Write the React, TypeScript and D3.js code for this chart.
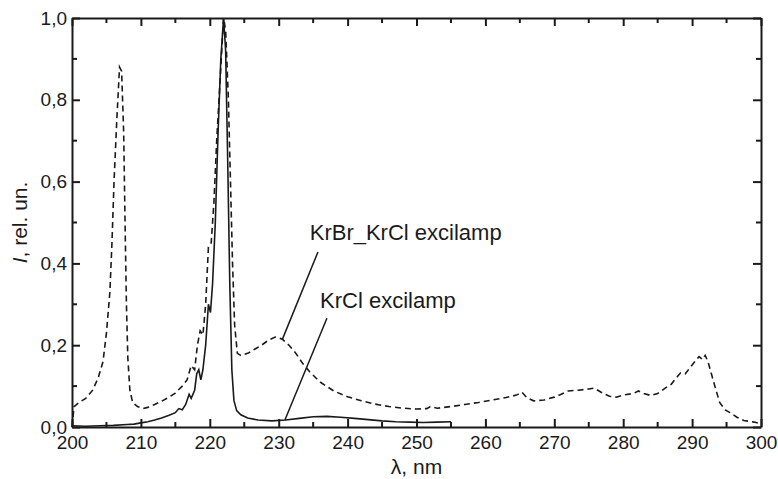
import { useEffect, useRef } from 'react';
import * as d3 from 'd3';

// KrBr_KrCl excilamp spectrum (dashed), [wavelength nm, relative intensity]
const krbrKrcl: [number, number][] = [
  [200, 0.0], [200.3, 0.05], [201, 0.06], [202, 0.07], [203, 0.09], [203.8, 0.12],
  [204.5, 0.16], [205, 0.23], [205.5, 0.33], [205.8, 0.45], [206.1, 0.6], [206.5, 0.75],
  [206.9, 0.88], [207.2, 0.87], [207.5, 0.72], [207.7, 0.5], [207.9, 0.3], [208.1, 0.17],
  [208.4, 0.09], [208.8, 0.06], [209.5, 0.05], [210.3, 0.045], [211, 0.048], [212, 0.055],
  [213, 0.063], [214, 0.072], [215, 0.083], [216, 0.1], [216.7, 0.115], [217.3, 0.15],
  [217.8, 0.14], [218.2, 0.2], [218.6, 0.235], [219, 0.225], [219.4, 0.3], [219.8, 0.44],
  [220.2, 0.45], [220.6, 0.55], [221, 0.7], [221.5, 0.85], [222, 1.0], [222.3, 0.97],
  [222.7, 0.8], [223, 0.6], [223.3, 0.4], [223.6, 0.25], [224, 0.18], [224.5, 0.175],
  [225.5, 0.18], [226.5, 0.19], [227.5, 0.2], [228.5, 0.212], [229.5, 0.22], [230.5, 0.215],
  [231.5, 0.2], [232.5, 0.18], [233.5, 0.155], [234.5, 0.135], [236, 0.11], [238, 0.088],
  [240, 0.074], [242, 0.064], [244, 0.056], [246, 0.05], [248, 0.046], [250, 0.044],
  [251.5, 0.045], [252, 0.05], [253, 0.046], [255, 0.05], [257, 0.055], [259, 0.06],
  [261, 0.066], [263, 0.072], [264.5, 0.078], [265.3, 0.085], [266, 0.072], [267, 0.064],
  [268.5, 0.066], [270, 0.073], [271, 0.08], [272, 0.088], [273.5, 0.09], [275, 0.093],
  [275.8, 0.095], [276.8, 0.085], [278, 0.075], [279, 0.073], [280, 0.078], [281.5, 0.082],
  [282.2, 0.088], [283, 0.082], [284, 0.077], [285, 0.082], [286, 0.094], [287, 0.105],
  [287.6, 0.118], [288.3, 0.132], [289, 0.13], [289.7, 0.145], [290.4, 0.16], [291, 0.172],
  [291.5, 0.165], [291.9, 0.175], [292.3, 0.16], [292.8, 0.13], [293.3, 0.1], [294, 0.06],
  [294.8, 0.042], [295.5, 0.035], [296.5, 0.024], [297.5, 0.016], [299, 0.012], [300, 0.008],
];

// KrCl excilamp spectrum (solid)
const krcl: [number, number][] = [
  [200, 0.003], [202, 0.002], [204, 0.003], [206, 0.004], [208, 0.006], [209, 0.007],
  [210, 0.01], [211, 0.013], [212, 0.017], [213, 0.022], [214, 0.028], [215, 0.035],
  [215.5, 0.045], [216, 0.042], [216.5, 0.055], [217, 0.08], [217.3, 0.07], [217.8, 0.09],
  [218.1, 0.13], [218.4, 0.14], [218.7, 0.115], [219, 0.14], [219.4, 0.2], [219.8, 0.3],
  [220.1, 0.28], [220.4, 0.35], [220.8, 0.5], [221.2, 0.72], [221.6, 0.9], [222, 1.0],
  [222.3, 0.92], [222.6, 0.65], [222.9, 0.35], [223.2, 0.14], [223.5, 0.065], [223.9, 0.04],
  [224.5, 0.03], [225.5, 0.022], [227, 0.017], [229, 0.015], [231, 0.017], [233, 0.021],
  [235, 0.025], [237, 0.026], [239, 0.024], [241, 0.021], [243, 0.018], [245, 0.015],
  [247, 0.013], [249, 0.012], [251, 0.011], [253, 0.012], [255, 0.013],
];

const xMajor = d3.range(200, 301, 10);
const xMinor = d3.range(205, 300, 10);
const yMajor = [0, 0.2, 0.4, 0.6, 0.8, 1.0];
const yMinor = [0.1, 0.3, 0.5, 0.7, 0.9];

// annotations: label text, label anchor and leader line ends in data units
const notes = [
  { text: 'KrBr_KrCl excilamp', at: [234.5, 0.457], from: [235.7, 0.428], to: [230.5, 0.213] },
  { text: 'KrCl excilamp', at: [236, 0.29], from: [237, 0.266], to: [230.9, 0.017] },
];

const W = 778;
const H = 479;
const m = { left: 72, right: 17, top: 18, bottom: 52 };
const font = 'Liberation Sans, Arial, sans-serif';

export default function App() {
  const svgRef = useRef<SVGSVGElement>(null);

  useEffect(() => {
    const svg = d3.select(svgRef.current);
    svg.selectAll('*').remove();

    const x = d3.scaleLinear().domain([200, 300]).range([m.left, W - m.right]);
    const y = d3.scaleLinear().domain([0, 1]).range([H - m.bottom, m.top]);
    const fmt = (d: number) => d.toFixed(1).replace('.', ',');

    const ink = '#1a1a1a';

    // curves
    const ln = d3
      .line<[number, number]>()
      .x((d) => x(d[0]))
      .y((d) => y(d[1]));

    svg
      .append('path')
      .attr('d', ln(krbrKrcl))
      .attr('fill', 'none')
      .attr('stroke', ink)
      .attr('stroke-width', 1.6)
      .attr('stroke-dasharray', '6,4');

    svg
      .append('path')
      .attr('d', ln(krcl))
      .attr('fill', 'none')
      .attr('stroke', ink)
      .attr('stroke-width', 1.6);

    // axes (ticks inward on all sides)
    const b = svg.append('g').attr('transform', `translate(0,${y(0)})`);
    b.call(
      d3.axisBottom(x).tickValues(xMajor).tickSizeInner(-8).tickSizeOuter(0).tickPadding(9).tickFormat(d3.format('d'))
    );
    const t = svg.append('g').attr('transform', `translate(0,${y(1)})`);
    t.call(d3.axisTop(x).tickValues(xMajor).tickSizeInner(-8).tickSizeOuter(0).tickFormat(() => ''));
    const l = svg.append('g').attr('transform', `translate(${x(200)},0)`);
    l.call(
      d3.axisLeft(y).tickValues(yMajor).tickSizeInner(-8).tickSizeOuter(0).tickPadding(5).tickFormat((d) => fmt(+d))
    );
    const r = svg.append('g').attr('transform', `translate(${x(300)},0)`);
    r.call(d3.axisRight(y).tickValues(yMajor).tickSizeInner(-8).tickSizeOuter(0).tickFormat(() => ''));

    // minor ticks
    b.selectAll('.mn').data(xMinor).join('line').attr('x1', (d) => x(d)).attr('x2', (d) => x(d)).attr('y1', 0).attr('y2', -5);
    t.selectAll('.mn').data(xMinor).join('line').attr('x1', (d) => x(d)).attr('x2', (d) => x(d)).attr('y1', 0).attr('y2', 5);
    l.selectAll('.mn').data(yMinor).join('line').attr('y1', (d) => y(d)).attr('y2', (d) => y(d)).attr('x1', 0).attr('x2', 5);
    r.selectAll('.mn').data(yMinor).join('line').attr('y1', (d) => y(d)).attr('y2', (d) => y(d)).attr('x1', 0).attr('x2', -5);

    [b, t, l, r].forEach((g) => {
      g.selectAll('path.domain').attr('stroke', ink).attr('stroke-width', 2);
      g.selectAll('line').attr('stroke', ink).attr('stroke-width', 2);
      g.selectAll('text').attr('fill', ink).style('font-family', font).style('font-size', '19px');
    });

    // axis titles
    svg
      .append('text')
      .attr('x', (x(200) + x(300)) / 2)
      .attr('y', H - 5)
      .attr('text-anchor', 'middle')
      .style('font-family', font)
      .style('font-size', '21px')
      .attr('fill', ink)
      .text('λ, nm');

    const yt = svg
      .append('text')
      .attr('transform', `translate(27,${(y(0) + y(1)) / 2}) rotate(-90)`)
      .attr('text-anchor', 'middle')
      .style('font-family', font)
      .style('font-size', '21px')
      .attr('fill', ink);
    yt.append('tspan').style('font-style', 'italic').text('I');
    yt.append('tspan').text(', rel. un.');

    // annotations
    notes.forEach((n) => {
      svg
        .append('line')
        .attr('x1', x(n.from[0]))
        .attr('y1', y(n.from[1]))
        .attr('x2', x(n.to[0]))
        .attr('y2', y(n.to[1]))
        .attr('stroke', ink)
        .attr('stroke-width', 1.5);
      svg
        .append('text')
        .attr('x', x(n.at[0]))
        .attr('y', y(n.at[1]))
        .style('font-family', font)
        .style('font-size', '22px')
        .attr('fill', ink)
        .text(n.text);
    });
  }, []);

  return (
    <svg
      ref={svgRef}
      width={W}
      height={H}
      style={{ position: 'absolute', left: 0, top: 0, background: '#fff' }}
    />
  );
}
